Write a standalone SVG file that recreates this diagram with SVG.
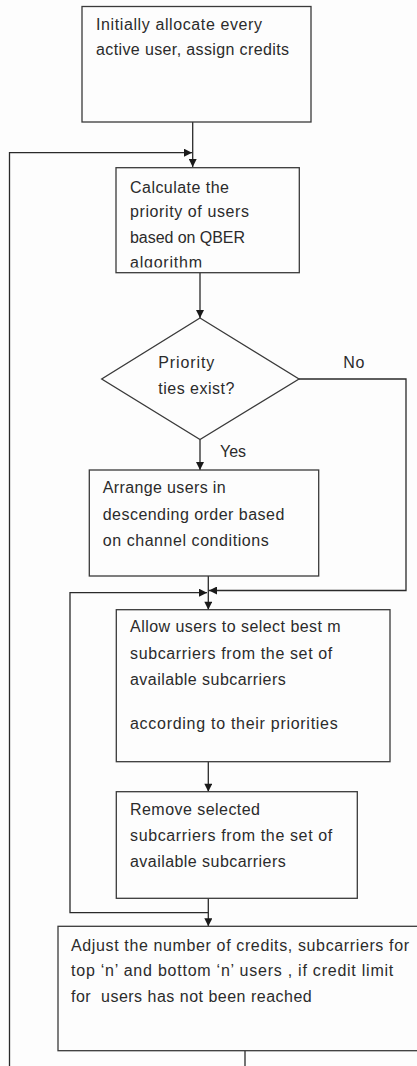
<svg xmlns="http://www.w3.org/2000/svg" width="417" height="1066" viewBox="0 0 417 1066">
<style>
.box{fill:#fdfdfd;stroke:#3a3a3a;stroke-width:1.3}
.ln{fill:none;stroke:#2a2a2a;stroke-width:1.3}
text{font-family:"Liberation Sans",Arial,sans-serif;font-size:16px;fill:#2b2b2b}
</style>
<defs>
<marker id="ah" viewBox="0 0 10 10" refX="10" refY="5" markerWidth="9" markerHeight="8" markerUnits="userSpaceOnUse" orient="auto">
<path d="M0,0 L10,5 L0,10 z" fill="#1a1a1a"/>
</marker>
<clipPath id="c2"><rect x="116" y="167" width="184" height="100.5"/></clipPath>
</defs>
<rect width="417" height="1066" fill="#fdfdfd"/>
<g id="connectors">
<path class="ln" d="M192.7,122 V167" marker-end="url(#ah)"/>
<path class="ln" d="M9.5,1066 V152.7 H192" marker-end="url(#ah)"/>
<path class="ln" d="M200,272.7 V318" marker-end="url(#ah)"/>
<path class="ln" d="M299,379 H406 V590.5 H209" marker-end="url(#ah)"/>
<path class="ln" d="M200,439.5 V470" marker-end="url(#ah)"/>
<path class="ln" d="M208.3,576 V609.7" marker-end="url(#ah)"/>
<path class="ln" d="M208.3,912.7 H70 V592.7 H207" marker-end="url(#ah)"/>
<path class="ln" d="M208.3,761.7 V791.7" marker-end="url(#ah)"/>
<path class="ln" d="M208.3,898.3 V926.3" marker-end="url(#ah)"/>
<path class="ln" d="M245,1050.7 V1066"/>
<text x="343.3" y="368.3" textLength="21">No</text>
<text x="220" y="457.3" textLength="26">Yes</text>
</g>
<g id="n1">
<rect class="box" x="82" y="6.5" width="229" height="115.5"/>
<text x="96" y="30" textLength="166">Initially allocate every</text>
<text x="96" y="55" textLength="193">active user, assign credits</text>
</g>
<g id="n2">
<rect class="box" x="116" y="167.7" width="183.3" height="105"/>
<g clip-path="url(#c2)">
<text x="130" y="192.5" textLength="99">Calculate the</text>
<text x="130" y="216.7" textLength="119">priority of users</text>
<text x="130" y="243.3" textLength="115">based on QBER</text>
<text x="130" y="267.5" textLength="72">algorithm</text>
</g>
</g>
<g id="n3">
<polygon class="box" points="200,318 299,379 200,439.5 101.7,379"/>
<text x="158.3" y="368.3" textLength="56">Priority</text>
<text x="158.3" y="394" textLength="76">ties exist?</text>
</g>
<g id="n4">
<rect class="box" x="89.3" y="470" width="229.4" height="106"/>
<text x="102.7" y="493.3" textLength="123">Arrange users in</text>
<text x="102.7" y="520" textLength="181.6">descending order based</text>
<text x="102.7" y="545.7" textLength="166">on channel conditions</text>
</g>
<g id="n5">
<rect class="box" x="116.3" y="609.7" width="273.7" height="152"/>
<text x="130" y="632.3" textLength="210.7">Allow users to select best m</text>
<text x="130" y="659" textLength="202.3">subcarriers from the set of</text>
<text x="130" y="685" textLength="155.7">available subcarriers</text>
<text x="130" y="729" textLength="207.7">according to their priorities</text>
</g>
<g id="n6">
<rect class="box" x="116.3" y="791.7" width="241" height="106.6"/>
<text x="130" y="815" textLength="130">Remove selected</text>
<text x="130" y="840.7" textLength="202.3">subcarriers from the set of</text>
<text x="130" y="867.3" textLength="155.7">available subcarriers</text>
</g>
<g id="n7">
<rect class="box" x="58" y="926.3" width="380" height="124.4"/>
<text x="71" y="950.7" textLength="338">Adjust the number of credits, subcarriers for</text>
<text x="71" y="975.7" textLength="322.3">top ‘n’ and bottom ‘n’ users , if credit limit</text>
<text x="71" y="1002.3" textLength="240.7" xml:space="preserve">for  users has not been reached</text>
</g>
</svg>
